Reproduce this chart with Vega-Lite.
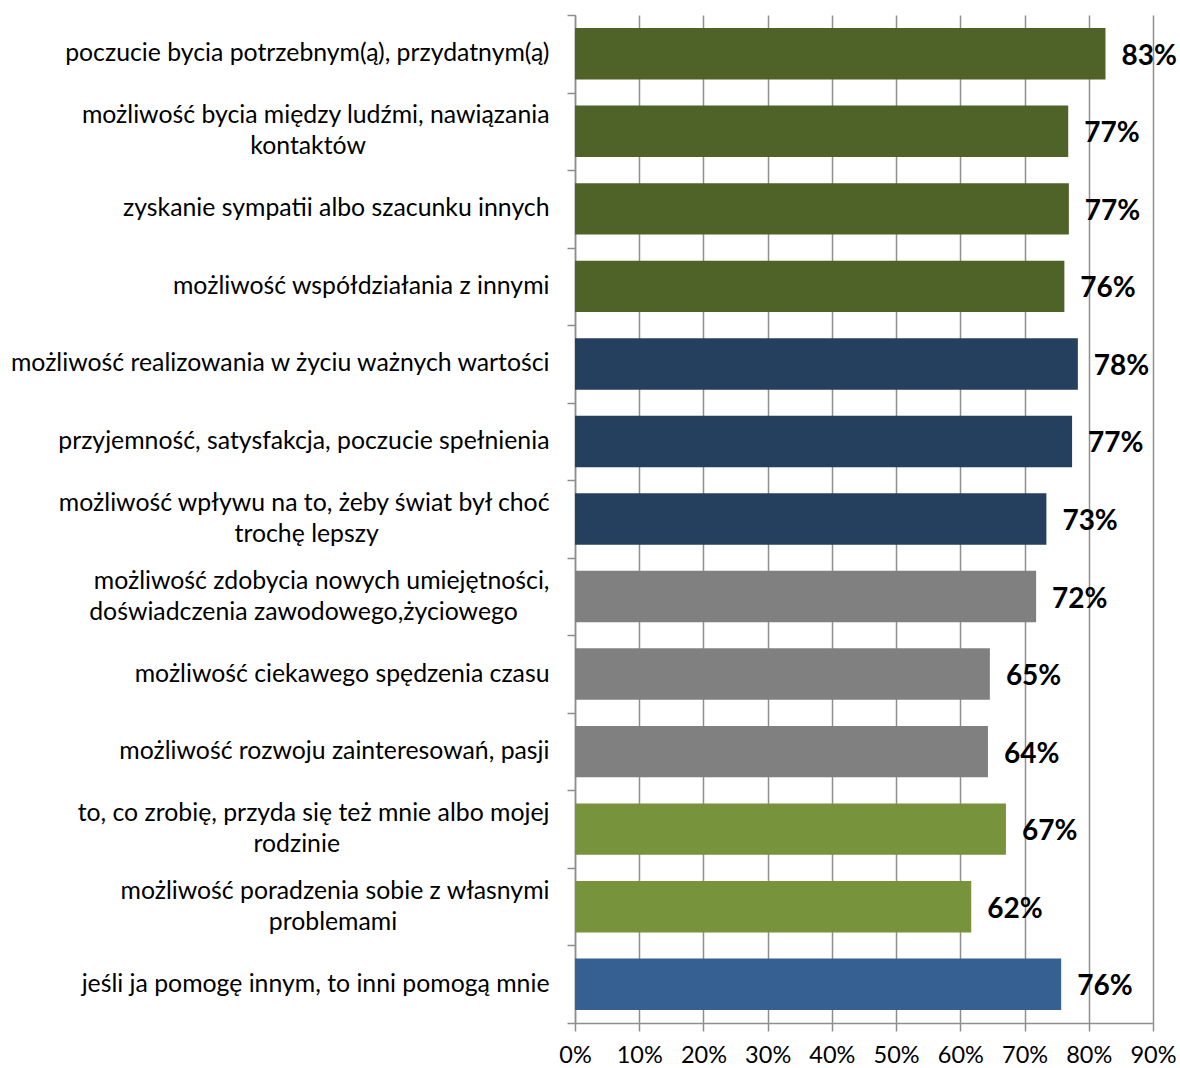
{
  "$schema": "https://vega.github.io/schema/vega-lite/v6.json",
  "width": 578,
  "height": 1008,
  "autosize": {"type": "none"},
  "padding": {"left": 575, "top": 15, "right": 27, "bottom": 45},
  "background": "white",
  "config": {"view": {"stroke": null}, "font": "Lato"},
  "data": {
    "values": [
      {"category": "poczucie bycia potrzebnym(ą), przydatnym(ą)", "value": 0.826, "group": "A"},
      {"category": "możliwość bycia między ludźmi, nawiązania|kontaktów", "value": 0.768, "group": "A"},
      {"category": "zyskanie sympatii albo szacunku innych", "value": 0.769, "group": "A"},
      {"category": "możliwość współdziałania z innymi", "value": 0.762, "group": "A"},
      {"category": "możliwość realizowania w życiu ważnych wartości", "value": 0.783, "group": "B"},
      {"category": "przyjemność, satysfakcja, poczucie spełnienia", "value": 0.774, "group": "B"},
      {"category": "możliwość wpływu na to, żeby świat był choć|trochę lepszy", "value": 0.734, "group": "B"},
      {"category": "możliwość zdobycia nowych umiejętności,|doświadczenia zawodowego,życiowego", "value": 0.718, "group": "C"},
      {"category": "możliwość ciekawego spędzenia czasu", "value": 0.646, "group": "C"},
      {"category": "możliwość rozwoju zainteresowań, pasji", "value": 0.643, "group": "C"},
      {"category": "to, co zrobię, przyda się też mnie albo mojej|rodzinie", "value": 0.671, "group": "D"},
      {"category": "możliwość poradzenia sobie z własnymi|problemami", "value": 0.617, "group": "D"},
      {"category": "jeśli ja pomogę innym, to inni pomogą mnie", "value": 0.757, "group": "E"}
    ]
  },
  "encoding": {
    "y": {
      "field": "category",
      "type": "nominal",
      "sort": null,
      "scale": {"paddingInner": 0, "paddingOuter": 0},
      "axis": {
        "title": null,
        "grid": false,
        "tickBand": "extent",
        "domainColor": "#8E8E8E",
        "domainWidth": 1.5,
        "tickColor": "#8E8E8E",
        "tickWidth": 1.5,
        "tickSize": 8,
        "labelFont": "Lato",
        "labelFontSize": 24.8,
        "labelColor": "#000000",
        "labelPadding": 18,
        "labelLimit": 0,
        "labelLineHeight": 15.5,
        "labelOffset": -15.5,
        "labelExpr": "indexof(datum.label, '|') >= 0 ? [split(datum.label, '|')[0], '\u200b', split(datum.label, '|')[1] + pad('', round(max(0, length(split(datum.label, '|')[0]) - length(split(datum.label, '|')[1])) * 0.9), '\u00a0') + '\u200b'] : ['', datum.label]"
      }
    },
    "x": {
      "field": "value",
      "type": "quantitative",
      "scale": {"domain": [0, 0.9], "nice": false},
      "axis": {
        "title": null,
        "values": [0, 0.1, 0.2, 0.3, 0.4, 0.5, 0.6, 0.7, 0.8, 0.9],
        "format": ".0%",
        "grid": true,
        "gridColor": "#8E8E8E",
        "gridWidth": 1.5,
        "domainColor": "#8E8E8E",
        "domainWidth": 1.5,
        "tickColor": "#8E8E8E",
        "tickWidth": 1.5,
        "tickSize": 8,
        "labelFont": "Lato",
        "labelFontSize": 23.5,
        "labelColor": "#000000",
        "labelPadding": 12,
        "labelFlush": false
      }
    }
  },
  "layer": [
    {
      "mark": {"type": "bar", "height": {"band": 0.663}},
      "encoding": {
        "color": {
          "field": "group",
          "type": "nominal",
          "scale": {"domain": ["A", "B", "C", "D", "E"], "range": ["#4F6228", "#253F5F", "#808080", "#77933C", "#376092"]},
          "legend": null
        }
      }
    },
    {
      "mark": {"type": "text", "align": "left", "baseline": "middle", "dx": 16, "dy": 3, "fontSize": 28, "fontWeight": "bold", "font": "Lato", "color": "#000000"},
      "encoding": {"text": {"field": "value", "type": "quantitative", "format": ".0%"}}
    }
  ]
}
